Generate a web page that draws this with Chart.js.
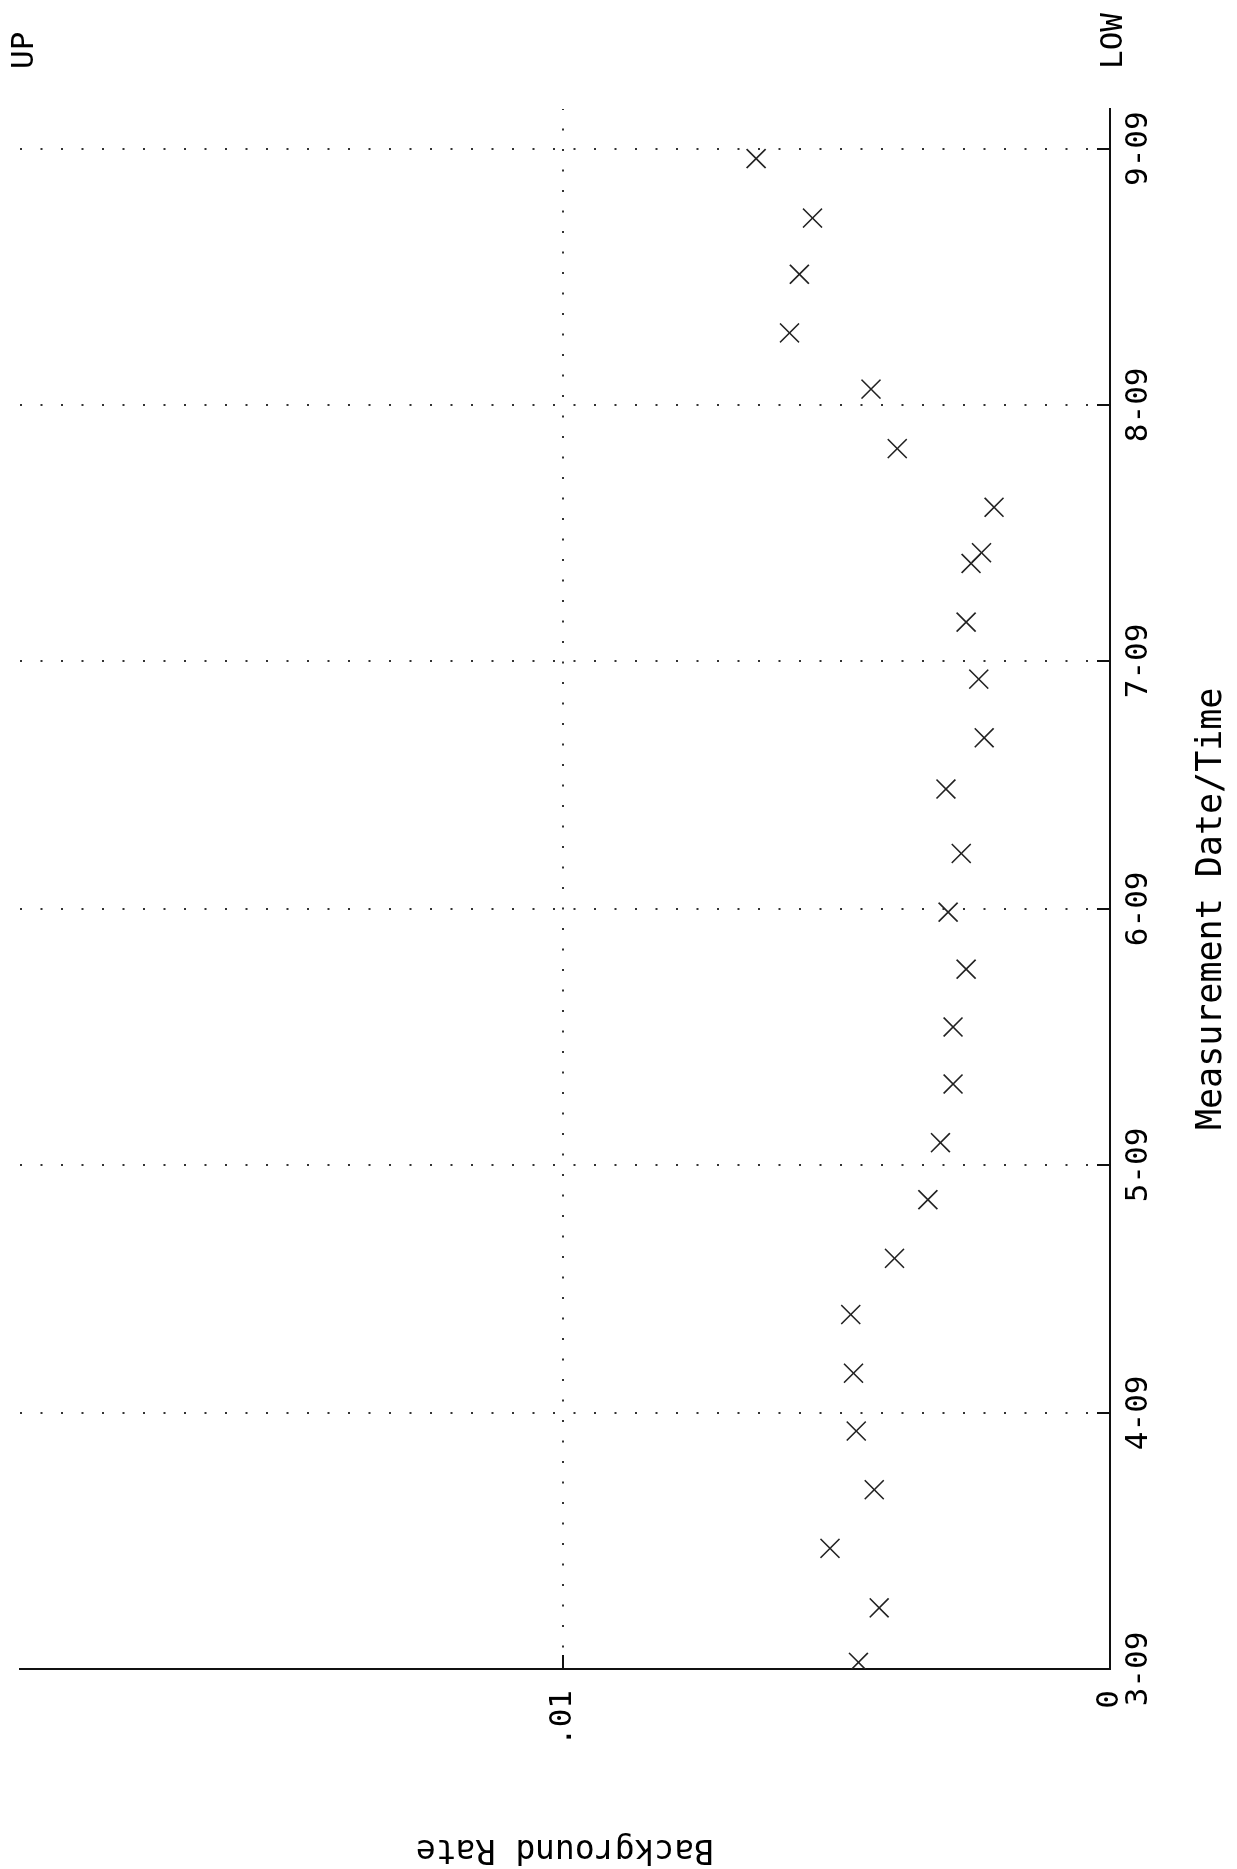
<!DOCTYPE html>
<html>
<head>
<meta charset="utf-8">
<script src="https://cdn.jsdelivr.net/npm/chart.js@4.4.1/dist/chart.umd.min.js"></script>
<style>
  html, body { margin: 0; padding: 0; background: #fff; overflow: hidden; }
  body { width: 1237px; height: 1869px; position: relative; }
  /* the whole plot is turned a quarter turn, like the scan */
  #chart {
    position: absolute; left: 0; top: 0;
    width: 1869px; height: 1237px;
    transform-origin: 0 0;
    transform: translate(0, 1869px) rotate(-90deg);
  }
</style>
</head>
<body>
<canvas id="chart" width="1869" height="1237"></canvas>
<script>
"use strict";

// month ticks, in days counted from 1 March 2009
const monthLabels = ["3-09", "4-09", "5-09", "6-09", "7-09", "8-09", "9-09"];
const monthStartDay = [0, 31, 61, 92, 122, 153, 184];

const rateTicks = [0, 0.01];
const rateTickLabels = ["0", ".01"];

// measurements (days since 1 March 2009) and background rate
const measureDay = [0.8, 7.4, 14.6, 21.7, 28.8, 35.8, 42.9, 49.7, 56.8, 63.7,
  70.8, 77.7, 84.7, 91.6, 98.7, 106.5, 112.7, 119.8, 126.7, 133.8,
  135.1, 140.6, 147.7, 154.9, 161.7, 168.8, 175.6, 182.8];
const backgroundRate = [0.00460, 0.00422, 0.00512, 0.00431, 0.00464, 0.00469, 0.00474, 0.00394, 0.00333, 0.00310,
  0.00287, 0.00287, 0.00263, 0.00296, 0.00272, 0.00300, 0.00230, 0.00240, 0.00263, 0.00254,
  0.00235, 0.00212, 0.00389, 0.00437, 0.00586, 0.00568, 0.00544, 0.00647];

const sideLabels = ["UP", "LOW"];
const xTitle = "Measurement Date/Time";
const yTitle = "Background Rate";

const FONT = "'DejaVu Sans Mono', monospace";
Chart.defaults.font.family = FONT;
Chart.defaults.color = "#000";

const points = measureDay.map((d, i) => ({ x: d, y: backgroundRate[i] }));

// inward tick marks, the x title (centred on the month ticks) and UP / LOW
const extras = {
  id: "extras",
  afterDraw(chart) {
    const ctx = chart.ctx;
    const xs = chart.scales.x;
    const ys = chart.scales.y;
    ctx.save();
    ctx.strokeStyle = "#111";
    ctx.lineWidth = 2;
    ctx.beginPath();
    monthStartDay.slice(1).forEach((d) => {
      const px = Math.round(xs.getPixelForValue(d));
      ctx.moveTo(px, ys.bottom);
      ctx.lineTo(px, ys.bottom - 13);
    });
    rateTicks.slice(1).forEach((v) => {
      const py = Math.round(ys.getPixelForValue(v));
      ctx.moveTo(xs.left, py);
      ctx.lineTo(xs.left + 14, py);
    });
    ctx.stroke();

    ctx.fillStyle = "#000";
    ctx.font = "35px " + FONT;
    ctx.textAlign = "center";
    ctx.textBaseline = "alphabetic";
    const first = xs.getPixelForValue(monthStartDay[0]);
    const last = xs.getPixelForValue(monthStartDay[monthStartDay.length - 1]);
    ctx.fillText(xTitle, (first + last) / 2, ys.bottom + 111);

    ctx.font = "31px " + FONT;
    ctx.textAlign = "left";
    ctx.textBaseline = "middle";
    ctx.fillText(sideLabels[0], 1800, ys.top + 5);
    ctx.fillText(sideLabels[1], 1800, ys.bottom + 4);
    ctx.restore();
  },
};

new Chart(document.getElementById("chart"), {
  type: "scatter",
  data: {
    datasets: [{
      data: points,
      showLine: false,
      pointStyle: "crossRot",
      pointRadius: 13.4,
      pointHoverRadius: 13.4,
      pointBorderWidth: 1.6,
      pointBorderColor: "#222",
      pointBackgroundColor: "#222",
    }],
  },
  options: {
    responsive: false,
    animation: false,
    events: [],
    layout: { padding: { left: 0, top: 20, right: 109, bottom: 0 } },
    plugins: { legend: { display: false }, tooltip: { enabled: false } },
    scales: {
      x: {
        type: "linear",
        position: "bottom",
        min: 0,
        max: 188.8,
        afterBuildTicks: (scale) => {
          scale.ticks = monthStartDay.map((v) => ({ value: v }));
        },
        afterFit: (scale) => {
          scale.height = 127;
          scale.paddingLeft = 0;
          scale.paddingRight = 0;
        },
        ticks: {
          autoSkip: false,
          maxRotation: 0,
          padding: 10,
          font: { size: 31 },
          callback: (v, i) => monthLabels[i],
        },
        grid: { drawTicks: false, color: "#333", lineWidth: 2, borderDash: [2, 18.5] },
        border: { color: "#111", width: 2, dash: [2, 18.5] },
      },
      y: {
        type: "linear",
        min: 0,
        max: 0.01993,
        afterBuildTicks: (scale) => {
          scale.ticks = rateTicks.map((v) => ({ value: v }));
        },
        afterFit: (scale) => {
          scale.width = 200;
          scale.paddingTop = 0;
          scale.paddingBottom = 0;
        },
        ticks: {
          padding: 21,
          font: { size: 31 },
          callback: (v, i) => rateTickLabels[i],
        },
        grid: { drawTicks: false, color: "#333", lineWidth: 2, borderDash: [2, 18.5] },
        border: { color: "#111", width: 2, dash: [2, 18.5] },
        title: {
          display: true,
          text: yTitle,
          font: { size: 33 },
          padding: { top: 1, bottom: 0 },
        },
      },
    },
  },
  plugins: [extras],
});
</script>
</body>
</html>
